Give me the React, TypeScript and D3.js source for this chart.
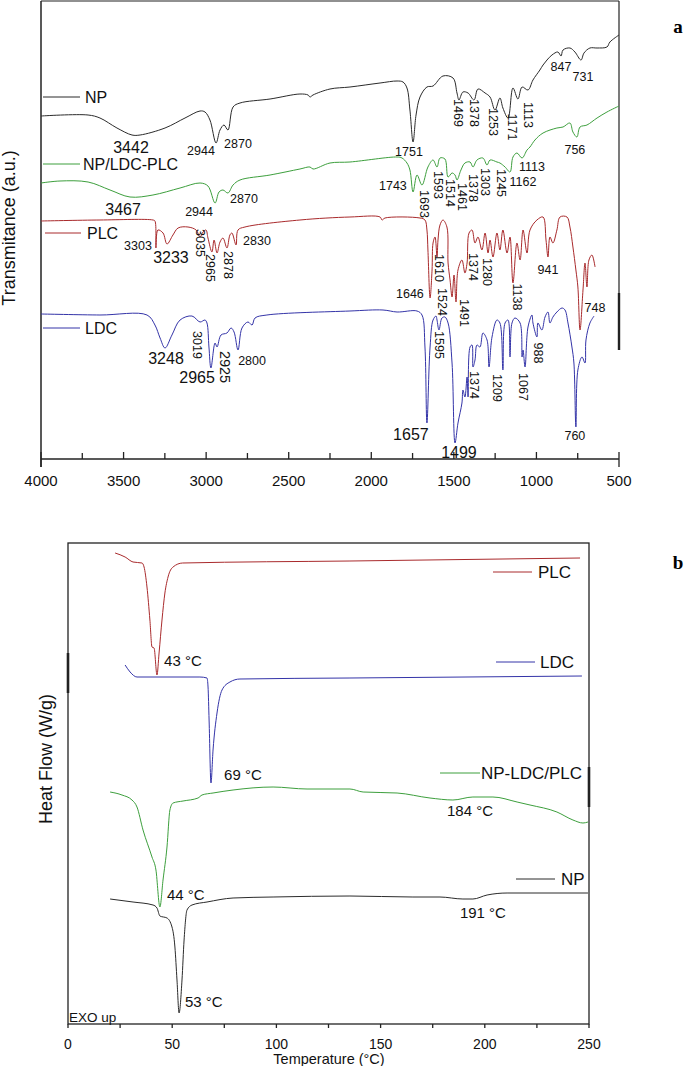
import React from "react";
import * as d3 from "d3";

type Pt = [number, number];
type Lab = [number, number, string];

// ---- FTIR spectra (panel a): [wavenumber cm-1, transmittance a.u., stacked] ----
const ftirNP: Pt[] = [
  [4000, 343], [3715, 344], [3643, 341], [3540, 331], [3449, 324], [3400, 324], [3249, 331],
  [3128, 341], [3037, 348], [3007, 347], [2977, 339], [2940, 316], [2916, 329], [2892, 334],
  [2868, 329], [2837, 352], [2795, 356], [2613, 360], [2432, 365], [2383, 364], [2371, 362],
  [2353, 364], [2250, 370], [2129, 372], [1947, 376], [1844, 378], [1808, 377], [1784, 371],
  [1766, 349], [1747, 317], [1729, 344], [1705, 362], [1663, 372], [1626, 373], [1566, 383],
  [1505, 381], [1481, 366], [1469, 359], [1445, 367], [1414, 366], [1378, 359], [1354, 370],
  [1311, 366], [1281, 362], [1251, 349], [1221, 361], [1203, 351], [1172, 341], [1142, 371],
  [1112, 360], [1087, 372], [1051, 369], [1021, 379], [979, 389], [960, 394], [936, 399],
  [906, 404], [870, 407], [851, 403], [839, 409], [797, 411], [767, 407], [730, 399],
  [712, 406], [676, 411], [633, 411], [573, 412], [555, 417], [500, 424],
];

const ftirMix: Pt[] = [
  [4000, 276], [3885, 278], [3715, 277], [3582, 269], [3461, 262], [3322, 264], [3158, 271],
  [3037, 276], [2989, 273], [2946, 256], [2922, 267], [2898, 269], [2868, 266], [2837, 274],
  [2795, 279], [2613, 284], [2432, 290], [2371, 292], [2353, 290], [2250, 296], [2129, 297],
  [1844, 302], [1814, 301], [1784, 296], [1766, 289], [1747, 267], [1723, 284], [1693, 274],
  [1657, 292], [1626, 299], [1602, 292], [1584, 301], [1554, 300], [1535, 282], [1511, 286],
  [1493, 284], [1481, 279], [1457, 289], [1433, 296], [1402, 297], [1384, 292], [1360, 299],
  [1324, 301], [1299, 294], [1281, 299], [1239, 297], [1221, 296], [1190, 292], [1160, 287],
  [1142, 302], [1118, 306], [1087, 301], [1057, 309], [1039, 312], [1009, 319], [960, 326],
  [876, 331], [839, 332], [797, 336], [779, 327], [755, 322], [736, 332], [694, 334],
  [633, 341], [573, 347], [500, 353],
];

const ftirPLC: Pt[] = [
  [4000, 238], [3643, 239], [3322, 239], [3310, 238], [3304, 211], [3292, 229], [3261, 226],
  [3237, 215], [3201, 224], [3170, 231], [3110, 232], [3061, 229], [3037, 222], [3019, 227],
  [3001, 229], [2989, 221], [2965, 207], [2952, 219], [2934, 206], [2916, 217], [2898, 221],
  [2874, 211], [2856, 224], [2844, 226], [2819, 214], [2807, 229], [2765, 232], [2432, 239],
  [2129, 242], [1947, 242], [1935, 239], [1917, 241], [1705, 241], [1675, 239], [1663, 229],
  [1657, 209], [1644, 161], [1632, 189], [1626, 216], [1614, 222], [1602, 202], [1596, 219],
  [1584, 234], [1566, 239], [1542, 232], [1535, 196], [1523, 179], [1511, 162], [1499, 184],
  [1487, 157], [1475, 189], [1451, 199], [1433, 186], [1420, 196], [1408, 226], [1390, 229],
  [1372, 216], [1354, 222], [1330, 209], [1311, 226], [1293, 206], [1281, 219], [1263, 202],
  [1239, 226], [1221, 209], [1203, 229], [1178, 206], [1160, 222], [1142, 176], [1118, 216],
  [1099, 199], [1081, 229], [1057, 206], [1039, 229], [997, 239], [960, 242], [942, 219],
  [930, 202], [918, 222], [900, 216], [876, 229], [857, 242], [815, 242], [797, 232],
  [779, 212], [761, 189], [749, 172], [736, 129], [718, 169], [706, 196], [694, 172],
  [682, 199], [664, 204], [645, 192],
];

const ftirLDC: Pt[] = [
  [4000, 145], [3643, 144], [3358, 144], [3310, 134], [3279, 121], [3249, 111], [3207, 124],
  [3158, 139], [3086, 143], [3037, 137], [3007, 139], [2995, 136], [2983, 112], [2971, 91],
  [2946, 116], [2934, 112], [2910, 124], [2874, 126], [2849, 131], [2831, 127], [2807, 109],
  [2783, 131], [2747, 137], [2722, 134], [2704, 141], [2632, 144], [2129, 148],
  [1929, 149], [1844, 147], [1723, 148], [1693, 144], [1675, 112], [1663, 36], [1644, 112],
  [1626, 139], [1608, 143], [1602, 139], [1590, 129], [1572, 141], [1554, 142], [1535, 136],
  [1511, 96], [1493, 16], [1475, 36], [1451, 56], [1445, 69], [1433, 62], [1420, 82],
  [1414, 62], [1402, 112], [1390, 114], [1384, 92], [1372, 99], [1360, 114], [1342, 112],
  [1324, 126], [1299, 119], [1287, 92], [1269, 122], [1239, 139], [1221, 136], [1203, 89],
  [1190, 136], [1172, 139], [1160, 102], [1148, 136], [1130, 141], [1099, 136], [1087, 102],
  [1081, 109], [1069, 92], [1051, 132], [1027, 144], [1021, 136], [997, 122], [991, 136],
  [967, 129], [948, 142], [930, 147], [918, 136], [900, 142], [876, 147], [845, 151],
  [827, 149], [809, 136], [785, 112], [773, 96], [761, 32], [749, 89], [724, 102],
  [706, 96], [700, 119], [676, 136], [651, 143],
];

const ftirTicks = [4000, 3500, 3000, 2500, 2000, 1500, 1000, 500];
const ftirMinor = [3750, 3250, 2750, 2250, 1750, 1250, 750];

// peak labels [wavenumber, a.u., text]
const ftirBigLabels: Lab[] = [
  [3455, 312, "3442"], [3503, 250, "3467"], [3213, 202, "3233"], [3243, 101, "3248"],
  [3055, 82, "2965"], [1760, 25, "1657"], [1469, 7, "1499"],
];
const ftirFlatLabels: Lab[] = [
  [3031, 309, "2944"], [2807, 316, "2870"], [1772, 308, "1751"], [851, 393, "847"],
  [718, 383, "731"], [3043, 248, "2944"], [2771, 261, "2870"], [1869, 274, "1743"],
  [1081, 278, "1162"], [1027, 293, "1113"], [767, 310, "756"], [3413, 214, "3303"],
  [2692, 219, "2830"], [1766, 166, "1646"], [930, 190, "941"], [645, 152, "748"],
  [2722, 99, "2800"], [767, 24, "760"],
];
const ftirRotLabels: Lab[] = [
  [1469, 346, "1469"], [1378, 346, "1378"], [1257, 337, "1253"], [1142, 332, "1171"],
  [1051, 344, "1113"], [1675, 255, "1693"], [1596, 274, "1593"], [1523, 266, "1514"],
  [1445, 262, "1461"], [1384, 271, "1378"], [1311, 277, "1303"], [1209, 276, "1245"],
  [3037, 216, "3035"], [2971, 191, "2965"], [2862, 194, "2878"], [1584, 191, "1610"],
  [1566, 157, "1524"], [1433, 146, "1491"], [1384, 192, "1374"], [1299, 187, "1280"],
  [1112, 162, "1138"], [3055, 114, "3019"], [2886, 92, "2925"], [1584, 114, "1595"],
  [1372, 74, "1374"], [1233, 71, "1209"], [1081, 72, "1067"], [985, 106, "988"],
];

// ---- DSC thermograms (panel b): [temperature °C, heat flow a.u., stacked] ----
const dscPLC: Pt[] = [
  [22.6, 471], [27.4, 467], [31.2, 462], [35.5, 461], [36.5, 457], [37.9, 437], [39.3, 404],
  [40.3, 377], [41.3, 376], [42.7, 349], [43.7, 371], [45.1, 404], [46.5, 431], [48.0, 447],
  [50.4, 457], [55.0, 461], [135.3, 463], [245.7, 466],
];
const dscLDC: Pt[] = [
  [27.4, 359], [29.8, 352], [33.1, 347], [63.3, 347], [66.7, 346], [67.2, 337], [67.7, 304],
  [68.6, 241], [69.6, 274], [71.5, 311], [73.9, 334], [77.7, 342], [82.5, 345], [135.3, 346],
  [246.6, 348],
];
const dscMix: Pt[] = [
  [20.2, 232], [25.9, 229], [30.7, 224], [33.1, 217], [36.0, 194], [40.3, 167], [42.2, 154],
  [44.1, 117], [45.6, 144], [47.5, 177], [48.9, 214], [50.4, 221], [55.2, 223], [62.4, 226],
  [64.3, 229], [69.6, 231], [79.2, 234], [98.4, 237], [114.7, 235], [135.3, 235], [141.6, 232],
  [157.9, 231], [173.7, 226], [184.7, 224], [194.3, 227], [203.9, 227], [215.5, 222],
  [221.7, 219], [234.6, 212], [242.3, 204], [247.1, 201], [249.5, 202],
];
const dscNP: Pt[] = [
  [20.2, 125], [31.2, 122], [40.8, 119], [42.7, 116], [44.1, 108], [47.5, 106], [49.9, 97],
  [51.3, 77], [52.3, 44], [53.3, 11], [54.7, 44], [55.7, 84], [57.1, 114], [59.5, 119],
  [66.7, 122], [79.2, 126], [98.4, 127], [135.3, 128], [165.5, 127], [178.5, 127],
  [189.5, 125], [194.3, 125], [201.1, 129], [210.7, 131], [249.5, 131],
];
const dscTicks = [0, 50, 100, 150, 200, 250];
const dscMinor = [25, 75, 125, 175, 225];
const dscLeftLabels: Lab[] = [
  [46.1, 363, "43 °C"], [74.9, 249, "69 °C"], [47.5, 129, "44 °C"], [56.1, 22, "53 °C"],
];
const dscMidLabels: Lab[] = [[192.9, 213, "184 °C"], [199.1, 111, "191 °C"]];

const C_BLACK = "#2b2b2b";
const C_GREEN = "#3d9f3d";
const C_RED = "#a92a2c";
const C_BLUE = "#3434a8";
const FONT = "'Liberation Sans', Arial, sans-serif";

const A = { left: 41, right: 619, top: 1, bottom: 459 };
const B = { left: 68, right: 589, top: 543, bottom: 1024 };

export default function App() {
  const xA = d3.scaleLinear().domain([4000, 500]).range([A.left, A.right]);
  const yA = d3.scaleLinear().domain([0, 458]).range([A.bottom, A.top]);
  const xB = d3.scaleLinear().domain([0, 250]).range([B.left, B.right]);
  const yB = d3.scaleLinear().domain([0, 481]).range([B.bottom, B.top]);

  const lineA = d3
    .line<Pt>()
    .x((d) => xA(d[0]))
    .y((d) => yA(d[1]))
    .curve(d3.curveCatmullRom.alpha(0.5));
  const lineB = d3
    .line<Pt>()
    .x((d) => xB(d[0]))
    .y((d) => yB(d[1]))
    .curve(d3.curveMonotoneX);

  const ftirSeries = [
    { data: ftirNP, color: C_BLACK },
    { data: ftirMix, color: C_GREEN },
    { data: ftirPLC, color: C_RED },
    { data: ftirLDC, color: C_BLUE },
  ];
  const dscSeries = [
    { data: dscPLC, color: C_RED },
    { data: dscLDC, color: C_BLUE },
    { data: dscMix, color: C_GREEN },
    { data: dscNP, color: C_BLACK },
  ];

  // legend rows: [x1, x2, y, textX, label, color]
  const legendA: [number, number, number, number, string, string][] = [
    [43, 80, 97, 85, "NP", C_BLACK],
    [43, 80, 164, 83, "NP/LDC-PLC", C_GREEN],
    [45, 81, 233, 87, "PLC", C_RED],
    [43, 80, 328, 85, "LDC", C_BLUE],
  ];
  const legendB: [number, number, number, number, string, string][] = [
    [493, 532, 572, 538, "PLC", C_RED],
    [496, 535, 662, 540, "LDC", C_BLUE],
    [440, 480, 773, 481, "NP-LDC/PLC", C_GREEN],
    [516, 555, 879, 561, "NP", C_BLACK],
  ];

  return (
    <svg
      width={685}
      height={1066}
      style={{ position: "absolute", left: 0, top: 0, background: "#fff" }}
      fontFamily={FONT}
    >
      <rect width={685} height={1066} fill="#fff" />

      {/* ---------- panel a ---------- */}
      <g stroke="#222" fill="none">
        <line x1={A.left} x2={A.right} y1={A.top} y2={A.top} strokeWidth={1.2} />
        <line x1={A.left} x2={A.left} y1={A.top} y2={A.bottom + 8} strokeWidth={1.5} />
        <line x1={A.left} x2={A.right} y1={A.bottom} y2={A.bottom} strokeWidth={1.5} />
        <line x1={A.right} x2={A.right} y1={A.top} y2={293} strokeWidth={1.2} />
        <line x1={A.right} x2={A.right} y1={293} y2={350} strokeWidth={2.4} />
        {ftirTicks.map((t) => (
          <line
            key={"ta" + t}
            x1={xA(t)}
            x2={xA(t)}
            y1={A.bottom - 7}
            y2={t === 4000 || t === 500 ? A.bottom + 8 : A.bottom}
            strokeWidth={1.3}
          />
        ))}
        {ftirMinor.map((t) => (
          <line key={"ma" + t} x1={xA(t)} x2={xA(t)} y1={A.bottom - 6} y2={A.bottom} strokeWidth={1.3} />
        ))}
      </g>
      {ftirTicks.map((t) => (
        <text key={"la" + t} x={xA(t)} y={486} fontSize={15} textAnchor="middle" fill="#111">
          {t}
        </text>
      ))}
      <text
        transform="translate(15,228) rotate(-90)"
        fontSize={18}
        textAnchor="middle"
        fill="#111"
      >
        Transmitance (a.u.)
      </text>
      {ftirSeries.map((s, i) => (
        <path key={"fa" + i} d={lineA(s.data) || ""} fill="none" stroke={s.color} strokeWidth={1} />
      ))}
      {legendA.map(([x1, x2, y, tx, label, color]) => (
        <g key={"lga" + label}>
          <line x1={x1} x2={x2} y1={y} y2={y} stroke={color} strokeWidth={1} />
          <text x={tx} y={y} dy="0.36em" fontSize={16} fill="#111">
            {label}
          </text>
        </g>
      ))}
      <g fill="#111" textAnchor="middle">
        {ftirBigLabels.map(([w, v, t], i) => (
          <text key={"bl" + i} x={xA(w)} y={yA(v)} dy="0.36em" fontSize={16}>
            {t}
          </text>
        ))}
        {ftirFlatLabels.map(([w, v, t], i) => (
          <text key={"fl" + i} x={xA(w)} y={yA(v)} dy="0.36em" fontSize={12.5}>
            {t}
          </text>
        ))}
        {ftirRotLabels.map(([w, v, t], i) => (
          <text
            key={"rl" + i}
            transform={`translate(${xA(w)},${yA(v)}) rotate(90)`}
            dy="0.36em"
            fontSize={t === "2925" ? 14.5 : 12.5}
          >
            {t}
          </text>
        ))}
      </g>
      <text x={678} y={33} fontSize={19} fontWeight="bold" fontFamily="'Liberation Serif', serif" textAnchor="middle">
        a
      </text>

      {/* ---------- panel b ---------- */}
      <g stroke="#222" fill="none">
        <rect x={B.left} y={B.top} width={B.right - B.left} height={B.bottom - B.top} strokeWidth={1.3} />
        <line x1={B.left} x2={B.left} y1={653} y2={693} strokeWidth={2.6} />
        <line x1={B.right} x2={B.right} y1={767} y2={807} strokeWidth={2.6} />
        {dscTicks.concat(dscMinor).map((t) => (
          <line key={"tb" + t} x1={xB(t)} x2={xB(t)} y1={B.bottom} y2={B.bottom + 4} strokeWidth={1.3} />
        ))}
      </g>
      {dscTicks.map((t) => (
        <text key={"lb" + t} x={xB(t)} y={1044} dy="0.36em" fontSize={14} textAnchor="middle" fill="#111">
          {t}
        </text>
      ))}
      <text x={329} y={1059} dy="0.36em" fontSize={14.5} textAnchor="middle" fill="#111">
        Temperature (°C)
      </text>
      <text transform="translate(46,759) rotate(-90)" dy="0.36em" fontSize={18} textAnchor="middle" fill="#111">
        Heat Flow (W/g)
      </text>
      <text x={69} y={1022} fontSize={13.5} fill="#111">
        EXO up
      </text>
      {dscSeries.map((s, i) => (
        <path key={"db" + i} d={lineB(s.data) || ""} fill="none" stroke={s.color} strokeWidth={1} />
      ))}
      {legendB.map(([x1, x2, y, tx, label, color]) => (
        <g key={"lgb" + label}>
          <line x1={x1} x2={x2} y1={y} y2={y} stroke={color} strokeWidth={1} />
          <text x={tx} y={y} dy="0.36em" fontSize={17} fill="#111">
            {label}
          </text>
        </g>
      ))}
      {dscLeftLabels.map(([t, v, s], i) => (
        <text key={"dl" + i} x={xB(t)} y={yB(v)} dy="0.36em" fontSize={15} fill="#111">
          {s}
        </text>
      ))}
      {dscMidLabels.map(([t, v, s], i) => (
        <text key={"dm" + i} x={xB(t)} y={yB(v)} dy="0.36em" fontSize={15} textAnchor="middle" fill="#111">
          {s}
        </text>
      ))}
      <text x={678} y={569} fontSize={19} fontWeight="bold" fontFamily="'Liberation Serif', serif" textAnchor="middle">
        b
      </text>
    </svg>
  );
}
